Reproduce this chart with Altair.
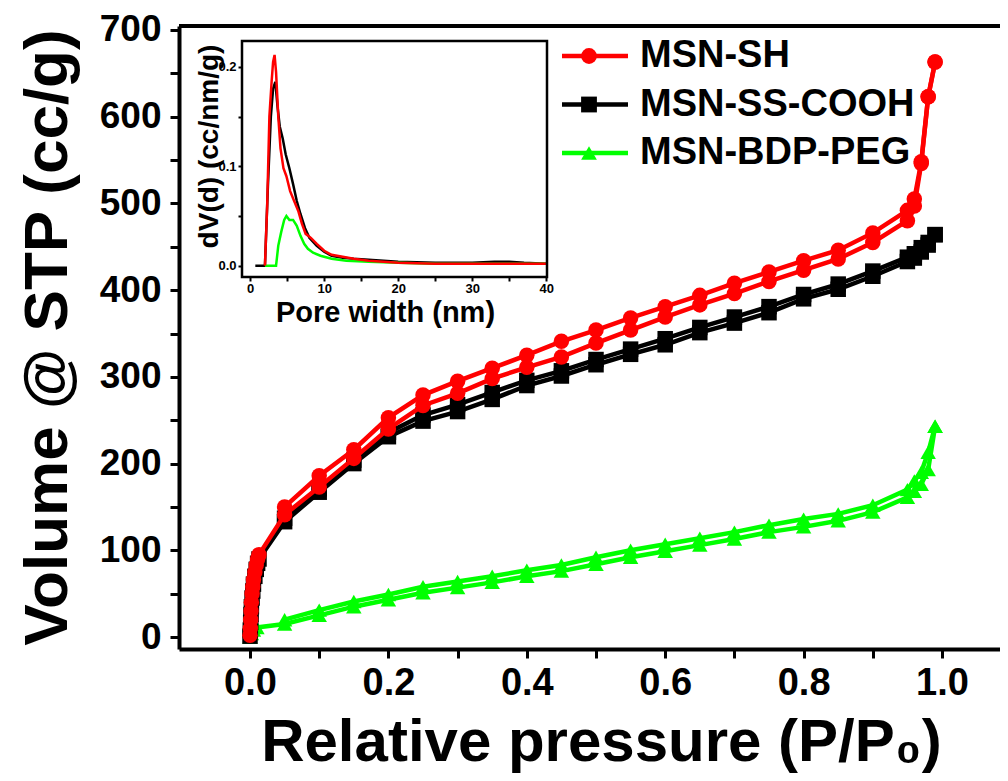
import altair as alt
import pandas as pd

SERIES = ["MSN-SH", "MSN-SS-COOH", "MSN-BDP-PEG"]
COLORS = ["#ff0000", "#000000", "#00ff00"]
SHAPES = ["circle", "square", "triangle-up"]

# ---------------- main isotherm data ----------------
P_SH_ADS = [0.0, 0.0005, 0.001, 0.0015, 0.002, 0.003, 0.004, 0.005, 0.007, 0.009, 0.011, 0.013,
            0.05, 0.10, 0.15, 0.20, 0.25, 0.30, 0.35, 0.40, 0.45, 0.50, 0.55, 0.60, 0.65, 0.70,
            0.75, 0.80, 0.85, 0.90, 0.95, 0.96, 0.97, 0.98, 0.99]
V_SH_ADS = [2, 10, 20, 30, 40, 50, 58, 66, 75, 83, 90, 95,
            141, 173, 206, 240, 267, 281, 298, 311, 323, 339, 354, 369, 383, 396,
            410, 423, 436, 455, 480, 497, 546, 623, 663]
P_SH_DES = [0.99, 0.98, 0.97, 0.96, 0.95, 0.90, 0.85, 0.80, 0.75, 0.70, 0.65, 0.60, 0.55,
            0.50, 0.45, 0.40, 0.35, 0.30, 0.25, 0.20, 0.15, 0.10, 0.05]
V_SH_DES = [663, 623, 548, 505, 492, 466, 446, 434, 421, 408, 394, 381, 368,
            354, 341, 325, 310, 295, 279, 253, 216, 186, 150]

P_SS_ADS = [0.0, 0.0005, 0.001, 0.0015, 0.002, 0.003, 0.004, 0.005, 0.007, 0.009, 0.011, 0.013,
            0.05, 0.10, 0.15, 0.20, 0.25, 0.30, 0.35, 0.40, 0.45, 0.50, 0.55, 0.60, 0.65, 0.70,
            0.75, 0.80, 0.85, 0.90, 0.95, 0.96, 0.97, 0.98, 0.99]
V_SS_ADS = [1, 8, 17, 26, 35, 45, 53, 61, 70, 78, 85, 90,
            133, 167, 200, 231, 249, 260, 274, 290, 301, 314, 326, 337, 351, 362,
            374, 390, 401, 416, 433, 437, 444, 452, 464]
P_SS_DES = [0.99, 0.98, 0.97, 0.96, 0.95, 0.90, 0.85, 0.80, 0.75, 0.70, 0.65, 0.60, 0.55,
            0.50, 0.45, 0.40, 0.35, 0.30, 0.25, 0.20, 0.15, 0.10, 0.05]
V_SS_DES = [464, 455, 449, 442, 438, 422, 407, 395, 381, 369, 357, 344, 332,
            320, 307, 296, 282, 268, 256, 236, 204, 171, 137]

P_PEG_ADS = [0.0, 0.002, 0.005, 0.01,
             0.05, 0.10, 0.15, 0.20, 0.25, 0.30, 0.35, 0.40, 0.45, 0.50, 0.55, 0.60, 0.65, 0.70,
             0.75, 0.80, 0.85, 0.90, 0.95, 0.96, 0.97, 0.98, 0.99]
V_PEG_ADS = [0, 4, 8, 11,
             15, 25, 35, 43, 51, 57, 63, 70, 76, 84, 92, 99, 106, 113,
             121, 127, 134, 144, 161, 168, 176, 193, 243]
P_PEG_DES = [0.99, 0.98, 0.97, 0.96, 0.95, 0.90, 0.85, 0.80, 0.75, 0.70, 0.65, 0.60, 0.55,
             0.50, 0.45, 0.40, 0.35, 0.30, 0.25, 0.20, 0.15, 0.10, 0.05]
V_PEG_DES = [243, 213, 190, 180, 170, 152, 142, 136, 129, 121, 114, 107, 100,
             92, 83, 77, 70, 64, 58, 49, 41, 31, 20]

# ---------------- inset pore size distribution ----------------
W_SH = [2.0, 2.3, 2.6, 2.9, 3.1, 3.3, 3.5, 3.8, 4.1, 4.5, 4.9, 5.4, 6.0, 6.5, 7.0, 7.5, 8.2,
        9.0, 10.0, 11.0, 12.5, 14.0, 16.0, 18.0, 20.0, 25.0, 30.0, 35.0, 40.0]
D_SH = [0.000, 0.060, 0.150, 0.185, 0.205, 0.212, 0.195, 0.150, 0.118, 0.098, 0.090, 0.075,
        0.064, 0.055, 0.042, 0.032, 0.028, 0.022, 0.015, 0.011, 0.009, 0.007, 0.005, 0.004,
        0.003, 0.002, 0.002, 0.002, 0.002]
W_SS = [0.7, 1.5, 2.0, 2.4, 2.8, 3.1, 3.4, 3.7, 4.0, 4.4, 4.8, 5.3, 5.8, 6.3, 6.8, 7.4, 8.0,
        9.0, 10.0, 11.0, 12.5, 14.0, 16.0, 18.0, 20.0, 25.0, 30.0, 33.0, 35.0, 37.0, 40.0]
D_SS = [0.000, 0.000, 0.000, 0.080, 0.150, 0.178, 0.185, 0.160, 0.140, 0.128, 0.112, 0.098,
        0.082, 0.065, 0.052, 0.038, 0.028, 0.020, 0.014, 0.010, 0.008, 0.007, 0.006, 0.005,
        0.004, 0.003, 0.003, 0.004, 0.004, 0.003, 0.002]
W_PEG = [2.0, 3.0, 3.5, 3.8, 4.2, 4.6, 4.9, 5.3, 5.8, 6.3, 6.8, 7.3, 7.8, 8.5, 9.5, 11.0,
         13.0, 16.0, 20.0, 25.0, 30.0, 35.0, 40.0]
D_PEG = [0.000, 0.000, 0.000, 0.020, 0.034, 0.046, 0.050, 0.046, 0.046, 0.040, 0.030, 0.022,
         0.017, 0.013, 0.010, 0.007, 0.005, 0.004, 0.003, 0.002, 0.002, 0.002, 0.002]

X_TICKS = [0.0, 0.1, 0.2, 0.3, 0.4, 0.5, 0.6, 0.7, 0.8, 0.9, 1.0]
Y_TICKS = [0, 50, 100, 150, 200, 250, 300, 350, 400, 450, 500, 550, 600, 650, 700]
IX_TICKS = [0, 5, 10, 15, 20, 25, 30, 35, 40]
IY_TICKS = [0.0, 0.05, 0.1, 0.15, 0.2]

# ---------------- layout (pixels) ----------------
W, H = 821, 623
BOLD = "'Liberation Sans', Arial, sans-serif"


def iso_rows(name, branch, ps, vs):
    return [{"series": name, "branch": branch, "p": p, "v": v} for p, v in zip(ps, vs)]


rows = []
rows += iso_rows("MSN-BDP-PEG", "ads", P_PEG_ADS, V_PEG_ADS)
rows += iso_rows("MSN-BDP-PEG", "des", P_PEG_DES, V_PEG_DES)
rows += iso_rows("MSN-SS-COOH", "ads", P_SS_ADS, V_SS_ADS)
rows += iso_rows("MSN-SS-COOH", "des", P_SS_DES, V_SS_DES)
rows += iso_rows("MSN-SH", "ads", P_SH_ADS, V_SH_ADS)
rows += iso_rows("MSN-SH", "des", P_SH_DES, V_SH_DES)
iso = pd.DataFrame(rows)

psd_rows = []
for name, ws, ds in [("MSN-SS-COOH", W_SS, D_SS), ("MSN-BDP-PEG", W_PEG, D_PEG), ("MSN-SH", W_SH, D_SH)]:
    psd_rows += [{"series": name, "w": w, "d": d} for w, d in zip(ws, ds)]
psd = pd.DataFrame(psd_rows)

color_scale = alt.Scale(domain=SERIES, range=COLORS)
shape_scale = alt.Scale(domain=SERIES, range=SHAPES)

xs = alt.Scale(domain=[-0.1026, 1.0838], nice=False, zero=False)
ys = alt.Scale(domain=[-13.8, 704.6], nice=False, zero=False)

x_axis = alt.Axis(
    values=X_TICKS, orient="bottom",
    labelExpr="round(datum.value*10) % 2 == 0 ? format(datum.value, '.1f') : ''",
    tickSize=9, tickWidth=3, tickColor="black", domainWidth=4, domainColor="black",
    labelFont=BOLD, labelFontSize=38, labelFontWeight="bold", labelColor="black",
    labelPadding=6, labelFlush=False, labelOverlap=False, grid=False,
    title="Relative pressure (P/P₀)", titleFont=BOLD, titleFontSize=60, titleFontWeight="bold",
    titleColor="black", titleX=422, titleY=111, titleAlign="center", titleBaseline="alphabetic",
)
y_axis = alt.Axis(
    values=Y_TICKS, orient="left",
    labelExpr="datum.value % 100 == 0 ? datum.label : ''",
    tickSize=9, tickWidth=3, tickColor="black", domainWidth=4, domainColor="black",
    labelFont=BOLD, labelFontSize=37, labelFontWeight="bold", labelColor="black",
    labelPadding=9, labelFlush=False, labelOverlap=False, grid=False,
    title="Volume @ STP (cc/g)", titleFont=BOLD, titleFontSize=62, titleFontWeight="bold",
    titleColor="black", titleX=-113, titleY=311, titleAngle=270, titleAlign="center",
    titleBaseline="alphabetic",
)

X_ENC = alt.X("p:Q", scale=xs, axis=x_axis)
Y_ENC = alt.Y("v:Q", scale=ys, axis=y_axis)
COLOR_ENC = alt.Color("series:N", scale=color_scale, legend=None)
SHAPE_ENC = alt.Shape("series:N", scale=shape_scale, legend=None)

main_layers = []
for name in ["MSN-BDP-PEG", "MSN-SS-COOH", "MSN-SH"]:
    base = alt.Chart(iso).transform_filter(alt.datum.series == name)
    line = base.mark_line(strokeWidth=4.5).encode(
        x=X_ENC, y=Y_ENC, detail="branch:N", color=COLOR_ENC,
    )
    pts = base.mark_point(filled=True, size=240, opacity=1).encode(
        x=X_ENC, y=Y_ENC, color=COLOR_ENC, shape=SHAPE_ENC,
    )
    main_layers += [line, pts]

top_border = alt.Chart(iso).mark_rule(color="black", strokeWidth=4).encode(
    x=alt.value(0), x2=alt.value(W), y=alt.value(0)
).transform_filter("datum.p == 0.99 && datum.series == 'MSN-SH' && datum.branch == 'ads'")
main = alt.layer(*main_layers, top_border)

# ---------------- inset ----------------
ixs = alt.Scale(domain=[-1.1, 40.1], range=[63, 368], nice=False, zero=False)
iys = alt.Scale(domain=[-0.0114, 0.226], range=[251, 15], nice=False, zero=False)
ix_axis = alt.Axis(
    values=IX_TICKS, orient="bottom", offset=-(H - 251), domain=False,
    labelExpr="datum.value % 10 == 0 ? datum.label : ''",
    tickSize=4, tickWidth=2, tickColor="black", labelFont=BOLD, labelFontSize=13,
    labelFontWeight="bold", labelColor="black", labelPadding=1, labelFlush=False,
    labelOverlap=False, grid=False,
    title="Pore width (nm)", titleFont=BOLD, titleFontSize=29, titleFontWeight="bold",
    titleColor="black", titleX=206, titleY=44, titleAlign="center", titleBaseline="alphabetic",
)
iy_axis = alt.Axis(
    values=IY_TICKS, orient="left", offset=-63, domain=False,
    labelExpr="round(datum.value*100) % 10 == 0 ? format(datum.value, '.1f') : ''",
    tickSize=4, tickWidth=2, tickColor="black", labelFont=BOLD, labelFontSize=13,
    labelFontWeight="bold", labelColor="black", labelPadding=2, labelFlush=False,
    labelOverlap=False, grid=False,
    title="dV(d) (cc/nm/g)", titleFont=BOLD, titleFontSize=28, titleFontWeight="bold",
    titleColor="black", titleX=-25, titleY=120, titleAngle=270, titleAlign="center",
    titleBaseline="alphabetic",
)
IX_ENC = alt.X("w:Q", scale=ixs, axis=ix_axis)
IY_ENC = alt.Y("d:Q", scale=iys, axis=iy_axis)

psd_lines = alt.Chart(psd).mark_line(strokeWidth=2.5).encode(
    x=IX_ENC, y=IY_ENC, color=COLOR_ENC, detail="series:N",
)
inset_frame = alt.Chart(psd).mark_rect(
    fill=None, filled=False, stroke="black", strokeWidth=2.5
).encode(
    x=alt.datum(-1.1), x2=alt.datum(40.1),
    y=alt.datum(-0.0114), y2=alt.datum(0.226),
).transform_filter("datum.w == 40 && datum.series == 'MSN-SH'")
inset = alt.layer(psd_lines, inset_frame)

# ---------------- legend ----------------
leg = pd.DataFrame({"series": SERIES, "row": [0, 1, 2]})
lys = alt.Scale(domain=[0, 2], range=[30, 127], nice=False, zero=False)
LY_ENC = alt.Y("row:Q", scale=lys, axis=None)
leg_base = alt.Chart(leg)
leg_line = leg_base.mark_rule(strokeWidth=4.5).encode(
    x=alt.value(383), x2=alt.value(449), y=LY_ENC, color=COLOR_ENC,
)
leg_pt = leg_base.mark_point(filled=True, size=250, opacity=1).encode(
    x=alt.value(410), y=LY_ENC, color=COLOR_ENC, shape=SHAPE_ENC,
)
leg_txt = leg_base.mark_text(
    align="left", baseline="middle", font=BOLD, fontSize=38, fontWeight="bold", color="black"
).encode(x=alt.value(461), y=LY_ENC, text="series:N")
legend = alt.layer(leg_line, leg_pt, leg_txt)

chart = alt.layer(main, inset, legend).resolve_scale(
    x="independent", y="independent"
).properties(
    width=W, height=H,
    autosize=alt.AutoSizeParams(type="none"),
    padding={"left": 171, "top": 18, "right": 0, "bottom": 124},
).configure_view(stroke=None).configure(background="white")

chart.save("out.html", embed_options={"renderer": "svg", "actions": False})
